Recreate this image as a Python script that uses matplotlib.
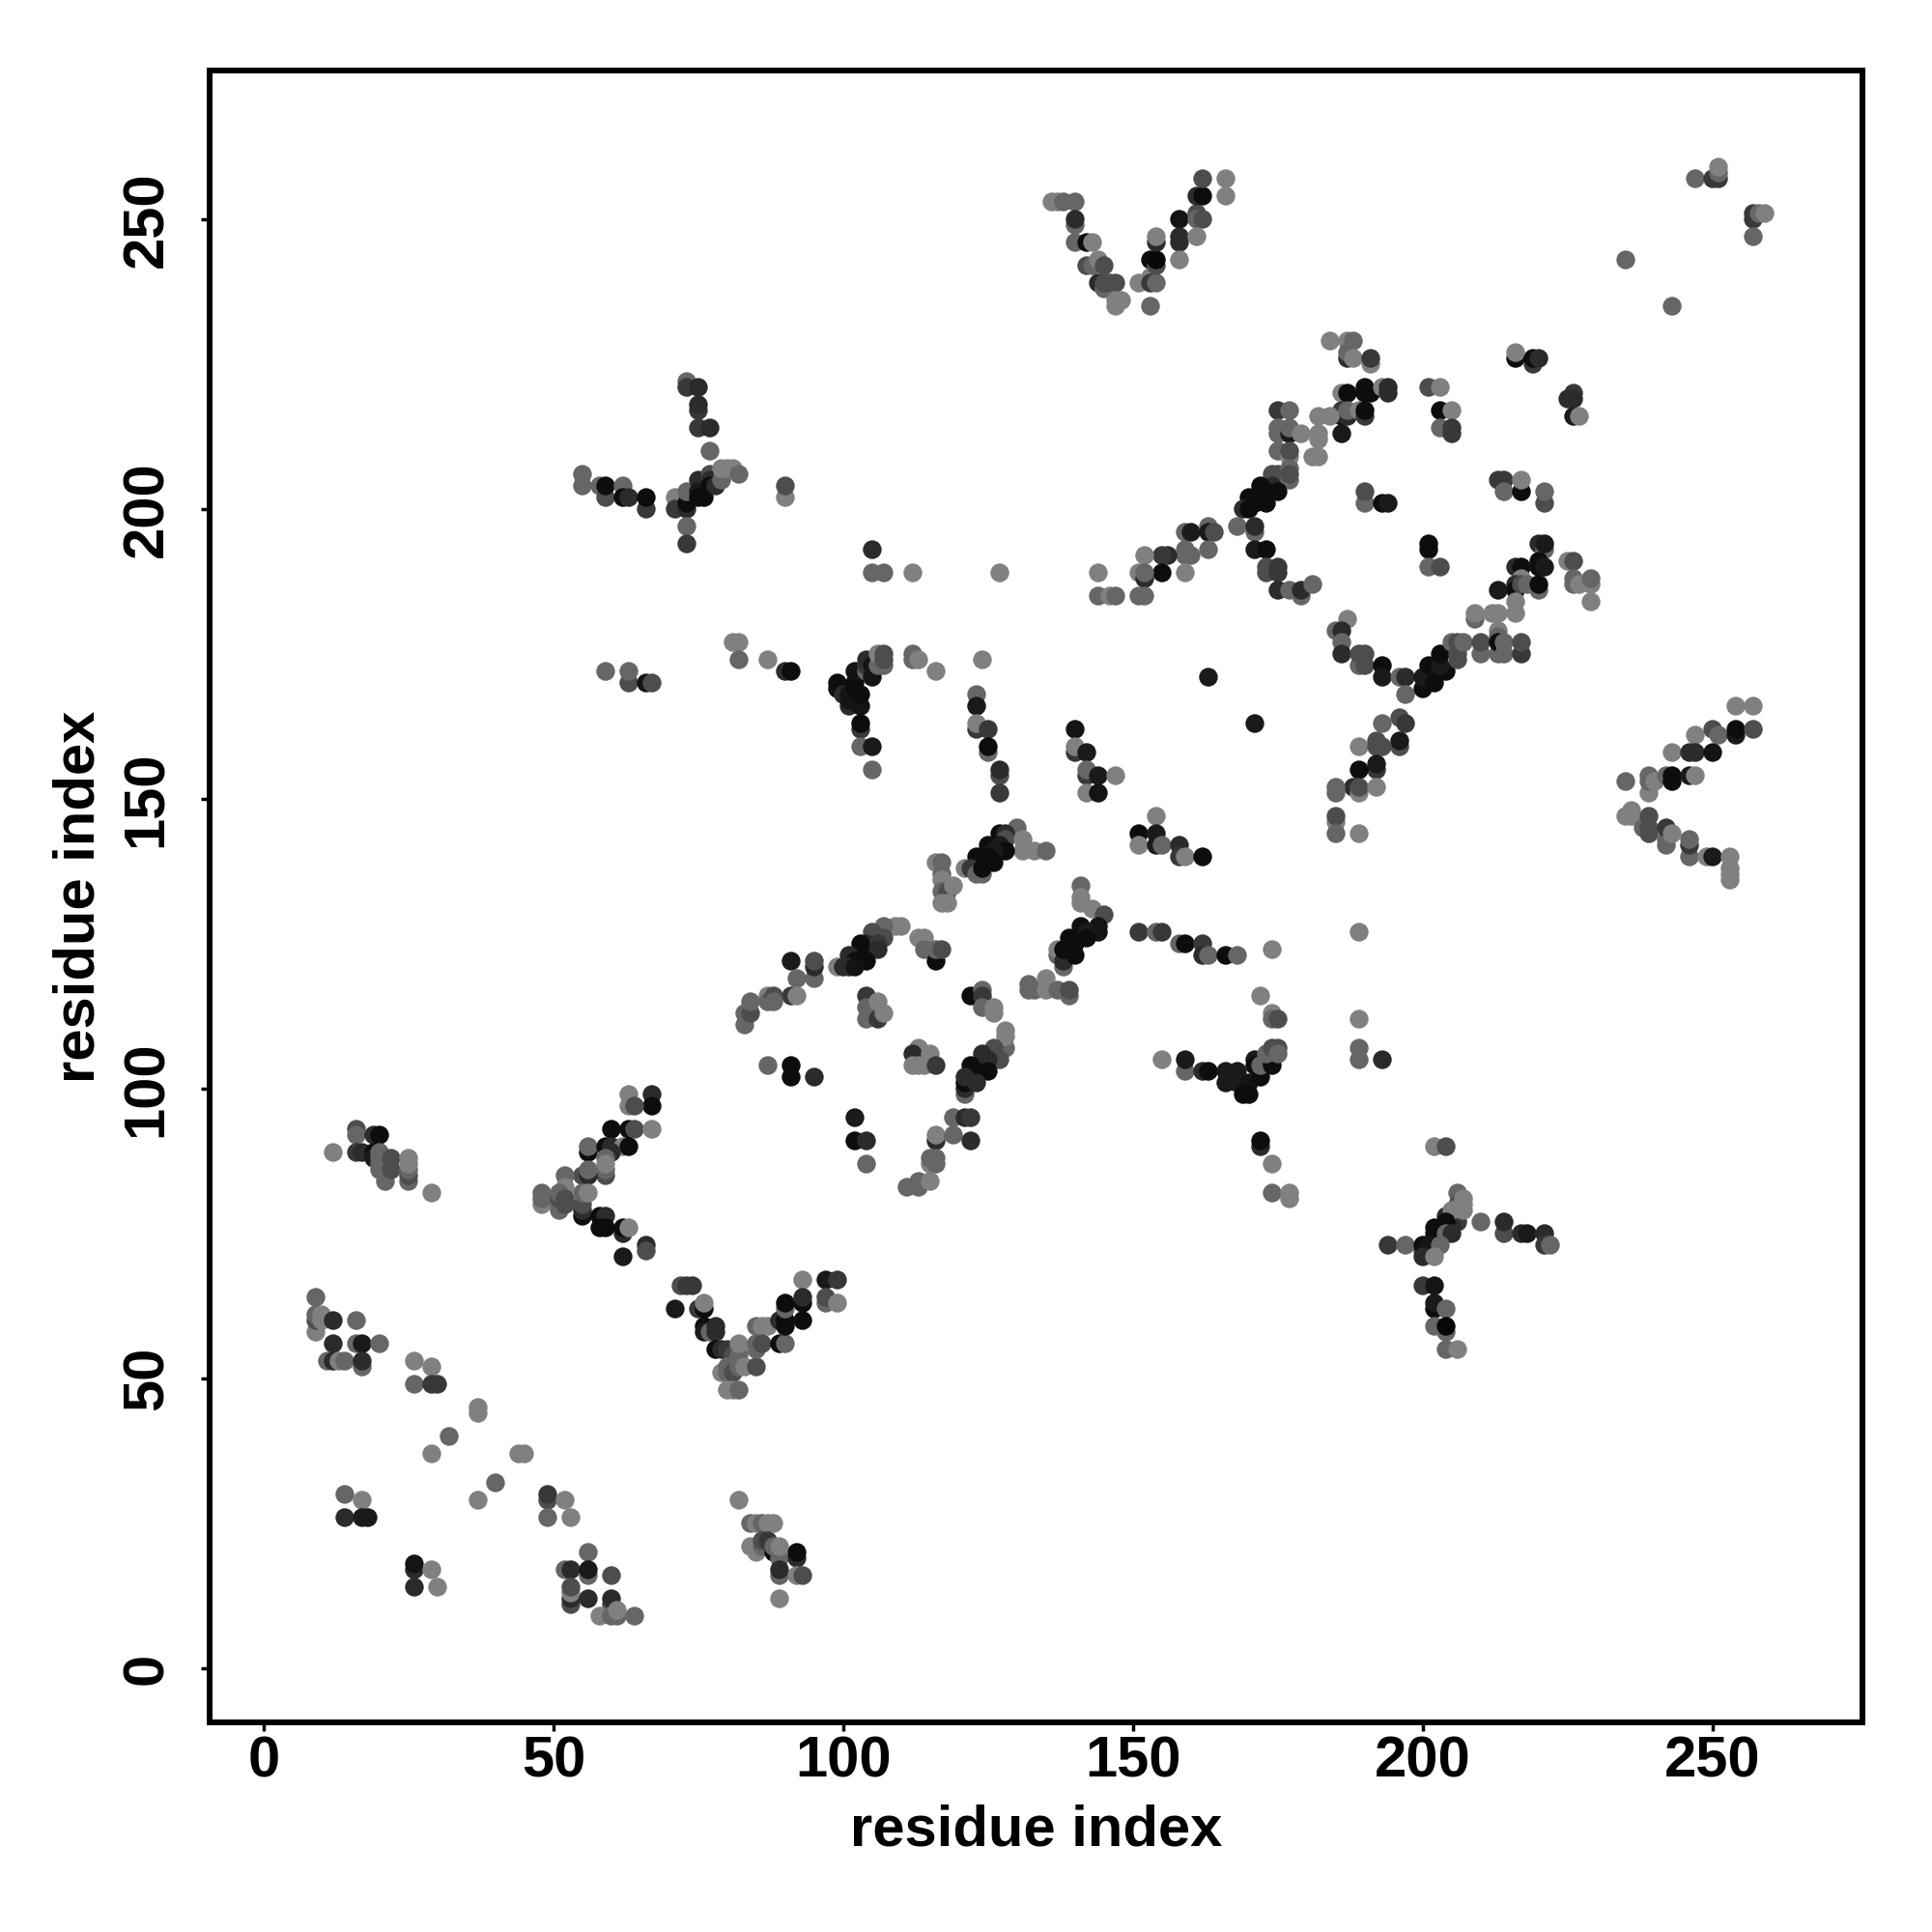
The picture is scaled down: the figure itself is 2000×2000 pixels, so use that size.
import numpy as np
import matplotlib
matplotlib.use('Agg')
import matplotlib.pyplot as plt

# contacts as (residue i, residue j, grey percent)
low_left = [(12,89,50),(16,93,30),(16,92,40),(16,89,22),(17,89,17),(19,92,17),(20,92,5),(19,89,5),(19,88,10),
    (20,89,40),(20,88,40),(20,87,40),(20,86,40),(21,88,40),(21,86,40),(21,84,40),(22,88,30),(22,86,30),
    (25,84,40),(25,85,30),(25,86,40),(25,87,50),(25,88,50),(29,82,50)]
chevron_a = [(63,99,50),(67,99,17),(67,97,5),(63,97,50),(64,97,30),(60,93,5),(63,93,5),(64,93,30),(67,93,50),
    (56,89,5),(56,90,40),(59,90,5),(60,90,17),(62,90,50),(63,90,5),(60,89,17),(59,88,40),(59,85,30),(59,86,40),(59,87,50),
    (55,85,30),(56,85,17),(56,86,40),(52,85,40),(52,83,50),(48,80,50),(48,81,40),(48,82,40),(51,79,40),(51,80,40),(51,81,30),(51,82,40),
    (52,80,30),(52,81,30),(55,78,5),(55,79,17),(55,80,30),(55,82,40),(56,82,50),(58,78,5),(59,78,17),(58,76,5),(59,76,5),
    (62,75,17),(62,76,5),(63,76,50),(66,73,17),(66,72,30),(62,71,10)]
mid_low = [(87,104,40),(91,104,5),(91,102,5),(95,102,17),(102,95,10),(102,91,5),(104,91,17),(104,87,40)]
vee_a = [(72,66,30),(73,66,22),(74,66,22),(71,62,10),(75,62,22),(76,62,5),(76,63,50),(76,59,5),(76,58,10),(77,58,40),(78,59,17),(78,58,17),
    (78,55,5),(79,55,17),(80,55,22),(81,54,30),(82,54,40),(82,56,50),(79,51,50),(80,51,40),(80,52,40),(81,51,30),(82,52,40),(83,52,50),(85,52,30),
    (80,48,50),(81,48,50),(82,48,40),(85,59,40),(86,59,50),(87,59,50),(85,55,40),(85,56,40),(86,56,30),(89,56,5),(90,56,40),
    (89,60,17),(90,59,5),(90,60,5),(90,62,40),(90,63,5),(93,67,50),(93,63,5),(93,64,17),(93,60,5),(97,67,10),(99,67,22),(97,63,40),(97,64,30),(99,63,50)]
far_left = [(9,64,40),(9,58,50),(9,60,30),(9,61,40),(10,60,50),(10,61,50),(12,60,17),(16,60,40),(12,56,17),(16,56,40),(17,56,10),(20,56,40),
    (11,53,40),(12,53,17),(13,53,50),(14,53,40),(17,52,40),(17,53,17),(26,53,50),(29,52,50),(26,49,40),(29,49,22),(30,49,22),
    (37,44,50),(37,45,50),(32,40,40),(29,37,50),(44,37,50),(45,37,50),(40,32,40),(37,29,50),
    (14,30,40),(17,29,50),(14,26,17),(17,26,10),(18,26,10),(49,29,30),(49,30,22),(52,29,50),(49,26,40),(53,26,50)]
bottom_left = [(26,17,17),(26,18,8),(29,17,50),(26,14,17),(30,14,50),(56,20,40),(52,17,40),(53,17,17),(56,16,40),(56,17,10),(60,16,30),
    (53,11,30),(53,12,17),(53,13,50),(53,14,30),(56,12,17),(60,11,30),(60,12,17),(58,9,50),(60,9,40),(61,9,40),(61,10,50),(64,9,40),
    (82,29,50),(84,25,40),(85,25,50),(86,25,40),(87,25,50),(88,25,50),(84,21,50),(85,20,50),(86,21,40),(86,22,30),(87,22,22),(88,20,5),(88,21,40),(89,19,40),(89,21,50),
    (92,19,17),(92,20,5),(89,16,40),(89,17,17),(92,16,50),(93,16,30),(89,12,50)]
block_170 = [(81,177,50),(82,177,50),(82,174,40),(87,174,50),(90,172,17),(91,172,5),(99,169,5),(99,170,5),(100,168,17),(101,166,17),(101,167,8),(101,168,8),
    (102,169,5),(102,170,5),(102,172,8),(103,162,22),(103,163,5),(103,166,8),(103,168,5),(103,159,40),(105,159,10),(105,155,40),
    (104,172,40),(104,173,22),(104,174,17),(105,171,8),(105,173,8),(106,173,40),(106,175,50),(107,173,40),(107,174,30),(107,175,30),
    (112,175,40),(112,174,40),(113,174,50),(116,172,50),(124,174,50),(123,168,40),(123,166,10),(123,162,22),(123,163,50),(125,162,22),(125,158,40),(125,159,5),
    (127,154,30),(127,155,17),(127,151,22),(140,162,8),(140,158,22),(140,159,50),(142,158,10),(142,154,22),(142,155,40),(144,154,10),(147,154,50),(142,151,50),(144,151,8),
    (163,171,10),(171,163,10)]
block_140 = [(154,147,50),(151,144,5),(154,144,10),(151,142,50),(154,142,10),(155,142,40),(158,142,17),(158,140,22),(159,140,50),(162,140,5),
    (130,145,40),(127,144,5),(128,144,17),(128,143,30),(131,143,50),(131,141,50),(133,141,50),(135,141,40),(125,142,5),(127,142,10),(128,141,5),(126,141,10),
    (123,140,5),(125,140,5),(126,139,5),(121,138,50),(122,138,22),(123,137,40),(124,137,40),(124,138,5),
    (116,139,50),(117,139,40),(117,137,40),(117,136,50),(117,134,40),(118,134,30),(119,135,50),(117,132,50),(118,132,50),
    (141,135,40),(141,133,50),(141,132,50),(143,131,50),(145,130,30),(141,128,5),(144,128,8),(144,127,8),(142,127,10),(139,126,5),(142,126,5),(140,125,5),
    (137,123,40),(137,124,50),(138,121,40),(138,122,17),(138,124,5),(140,123,5)]
block_125 = [(151,127,22),(154,127,40),(155,127,22),(158,125,40),(159,125,5),(162,125,22),(162,123,17),(163,123,40),(166,123,5),(168,123,40),(174,124,50),
    (110,128,50),(109,128,50),(107,128,40),(105,127,30),(107,126,30),(104,125,17),(106,125,22),(103,125,5),(106,124,17),(103,123,5),(101,123,17),(104,122,5),(102,122,5),
    (99,121,50),(100,121,17),(101,121,17),(102,121,8),(113,126,50),(114,126,50),(114,124,40),(116,122,5),(116,124,40),(117,124,30),
    (91,122,10),(95,119,40),(95,121,17),(95,122,30),(92,119,40),(91,116,22),(92,116,50),(87,116,50),(87,115,40),(88,116,30),(88,115,40),
    (83,111,40),(83,113,40),(84,113,30),(84,115,40),
    (104,116,22),(104,112,40),(104,114,40),(106,112,22),(106,115,50),(107,113,50),(122,116,5),(124,117,40),(124,116,22),(124,114,40),(126,114,50),(126,113,50),
    (132,118,40),(132,117,40),(133,117,40),(135,119,50),(135,117,50),(137,117,40),(139,116,40),(139,117,30)]
block_105 = [(128,107,40),(128,109,50),(128,110,50),(126,107,30),(124,106,17),(127,105,30),(125,105,17),(122,104,5),(125,103,5),(123,103,5),(121,99,40),(121,100,17),(121,101,5),(121,102,17),(123,101,17),
    (113,107,50),(112,106,17),(115,106,50),(112,104,50),(113,104,50),(114,104,50),(116,104,22),
    (119,95,40),(121,95,17),(122,95,22),(116,91,17),(116,92,50),(119,92,40),(122,91,17),(115,87,50),(116,87,40),(115,88,40),(116,88,40),(111,83,40),(113,83,40),(113,84,40),(115,84,50),
    (155,105,50),(159,103,40),(159,105,10),(162,103,17),(163,103,5),(166,103,10),(168,103,10),(166,101,10),(168,101,10),(170,101,8),(169,99,5),(170,99,5),(172,102,5),
    (171,105,10),(171,104,5),(172,104,40),(174,104,5),(173,106,40),(174,107,30),(175,107,30),(175,106,40),
    (172,116,50),(174,113,50),(174,112,40),(175,112,30),(172,90,17),(172,91,5),(174,87,50),(174,82,40),(177,81,50),(177,82,50),
    (189,127,50),(189,112,50),(189,107,40),(189,105,40),(193,105,17)]
top_right = [(184,229,50),(187,229,50),(188,229,40),(187,226,17),(187,227,40),(188,226,50),(191,225,50),(191,226,22),(216,226,5),(216,227,50),(219,225,22),(219,226,5),(220,226,17),
    (226,220,22),(225,219,17),(226,219,17),(226,216,10),(227,216,50),(186,220,50),(187,220,5),(190,221,5),(190,220,5),(191,220,5),(193,221,50),(194,220,17),(194,221,17),
    (201,221,30),(203,221,50),(203,217,5),(205,217,50),(203,214,40),(205,213,22),(205,214,22),
    (186,216,8),(186,217,22),(187,216,17),(187,217,40),(189,217,50),(190,216,22),(190,217,5),(186,213,10),
    (175,217,22),(177,217,40),(175,213,40),(175,214,40),(177,213,10),(177,214,40),(179,213,50),(182,216,50),(184,216,50),(182,212,50),(182,213,50),
    (175,210,40),(177,209,50),(177,210,30),(181,209,50),(182,209,50),(174,206,30),(175,206,30),(177,205,40),(177,207,40),(177,206,30),
    (174,204,17),(175,203,5),(172,204,5),(173,203,5),(170,202,5),(173,201,5),(171,201,5),(169,200,17),(170,200,5),
    (190,201,40),(190,203,30),(193,201,5),(194,201,10),(213,205,22),(214,205,22),(214,203,40),(217,203,5),(217,205,50),(221,201,30),(221,203,40)]
ring_190 = [(168,197,40),(171,196,40),(171,197,17),(171,193,10),(173,193,5),(159,196,40),(160,196,10),(163,197,40),(163,196,10),(164,196,30),(163,193,40),
    (159,192,40),(159,193,40),(160,192,40),(156,192,17),(155,192,22),(159,189,50),(155,189,5),(152,192,50),(151,189,50),(152,188,17),(152,189,40),
    (144,189,50),(144,185,40),(146,185,50),(147,185,40),(151,185,40),(152,185,40),
    (173,189,30),(173,190,30),(175,189,22),(175,190,22),(175,186,17),(177,186,40),(179,185,40),(179,186,17),(181,187,40),
    (201,194,5),(201,193,5),(201,190,40),(203,190,30),(220,194,17),(221,193,40),(221,194,10),(220,191,5),(220,190,5),(221,190,10),(216,190,17),(217,190,5),
    (217,188,50),(216,187,17),(216,186,5),(217,187,30),(218,187,40),(220,186,40),(220,187,5),(213,186,10),
    (225,191,50),(226,191,30),(226,187,40),(226,188,40),(227,187,50),(229,187,50),(229,188,40),(229,184,50)]
arc_175 = [(216,184,50),(216,182,50),(209,181,40),(209,182,50),(212,182,50),(213,182,50),(213,179,50),(213,178,40),
    (187,181,50),(185,179,40),(186,179,17),(186,177,40),(186,175,17),(189,173,40),(189,175,30),(190,173,30),(190,175,30),(193,173,5),(193,171,10),(196,171,40),(197,171,17),(197,168,40),
    (200,169,5),(200,171,10),(201,171,10),(201,173,5),(202,170,5),(204,172,5),(203,173,10),(203,175,5),(205,177,40),(206,174,30),(206,175,30),(206,177,30),(207,177,40),(210,175,40),(210,177,30),
    (213,175,40),(213,177,5),(214,175,40),(214,177,40),(217,175,22),(217,177,30),
    (196,164,30),(197,163,22),(193,163,40),(196,159,30),(196,160,10),(189,159,50),(192,159,30),(192,160,30),(193,159,30),(192,155,22),(192,156,10),(189,155,5),
    (188,152,17),(185,151,40),(185,152,40),(189,151,50),(189,152,30),(192,152,50),(185,146,50),(185,147,30),(185,144,40),(189,144,50)]
chevron_b = [(254,166,50),(257,166,50),(247,161,50),(250,162,30),(251,161,40),(254,161,10),(254,162,5),(257,162,30),(243,158,50),(246,158,17),(247,158,17),(250,158,8),
    (235,153,40),(239,151,50),(239,153,40),(239,154,40),(240,153,50),(242,154,40),(243,153,5),(243,154,5),(246,154,10),(247,154,50),
    (235,147,50),(236,147,50),(236,148,50),(238,145,40),(239,144,30),(239,145,30),(239,147,30),(242,142,40),(242,143,40),(242,145,22),(243,144,50),
    (246,140,40),(246,142,22),(246,143,40),(249,140,50),(250,140,10),(253,136,50),(253,137,50),(253,138,50),(253,140,50)]
cross_200 = [(73,222,40),(73,221,22),(75,221,17),(75,217,22),(75,218,17),(75,214,22),(77,214,17),(77,210,40),
    (55,206,40),(55,204,40),(58,204,40),(59,202,30),(59,204,5),(62,204,40),(62,202,5),(63,202,17),(66,200,22),(66,202,5),
    (71,202,50),(71,200,22),(73,200,17),(73,201,5),(73,203,40),(73,197,40),(73,194,22),(75,205,17),(75,203,10),(75,202,5),(76,202,5),
    (77,206,30),(77,205,17),(77,204,5),(78,204,17),(79,205,40),(79,207,50),(80,207,50),(81,207,50),(82,206,40),(90,202,50),(90,204,30),
    (105,193,17),(105,189,40),(107,189,40),(112,189,50),(127,189,50),(59,172,40),(63,170,30),(63,172,40),(66,170,8),(67,170,30)]
top_vee = [(136,253,50),(137,253,50),(138,253,40),(140,253,40),(140,249,40),(140,250,17),(140,246,40),(142,246,5),(143,246,50),
    (142,242,30),(143,242,40),(144,243,50),(145,242,30),(144,239,17),(145,238,40),(145,239,30),(146,239,30),(147,239,30),
    (147,235,50),(147,236,50),(148,236,50),(151,239,50),(153,240,50),(153,239,22),(154,239,40),(153,235,40),
    (153,243,5),(154,242,30),(154,243,3),(154,246,17),(154,247,50),(158,250,8),(158,246,17),(158,247,17),(158,243,50),
    (161,251,30),(161,250,40),(162,250,30),(161,247,50),(161,254,17),(162,254,5),(162,257,30),(166,257,50),(166,254,50)]
cross_75 = [(202,90,50),(204,90,30),(206,82,40),(206,80,30),(206,78,22),(206,77,22),(204,78,17),(205,79,50),(207,79,50),(207,80,50),(207,81,50),
    (205,76,17),(204,77,5),(202,76,5),(202,75,5),(204,75,40),(205,75,17),(210,77,40),(214,75,30),(214,77,17),(217,75,17),(218,75,10),(221,75,17),(221,73,22),(222,73,40),
    (194,73,22),(197,73,40),(200,72,22),(200,73,5),(201,72,5),(201,73,8),(203,73,40),(200,71,17),(202,71,50),
    (200,66,22),(202,66,8),(202,62,5),(202,63,10),(204,62,40),(202,59,40),(204,58,40),(204,59,3),(204,55,40),(206,55,50)]
far_top = [(247,257,40),(250,257,22),(251,257,22),(251,258,40),(251,259,50),(257,250,22),(257,251,22),(258,251,40),(259,251,50),(257,247,40),(235,243,40),(243,235,40)]

clusters = [low_left, chevron_a, mid_low, vee_a, far_left, bottom_left, block_170, block_140, block_125, block_105,
            top_right, ring_190, arc_175, chevron_b, cross_200, top_vee, cross_75, far_top]
xticks = [0, 50, 100, 150, 200, 250]

points = np.array([p for c in clusters for p in c], dtype=float)
colors = [str(g/100) for g in points[:,2]]

plt.rcParams['font.family'] = ['Liberation Sans', 'DejaVu Sans']
plt.rcParams['font.weight'] = 'bold'

fig = plt.figure(figsize=(20,20), dpi=100)
ax = fig.add_axes([217/2000, 1-1783/2000, (1928-217)/2000, (1783-73)/2000])
ax.scatter(points[:,0], points[:,1], s=195, c=colors, linewidths=0, clip_on=True)
ax.set_xlim(-9.33, 275.83)
ax.set_ylim(-9.33, 275.67)
ax.set_xticks(xticks)
ax.set_yticks(xticks)
ax.tick_params(axis='x', labelsize=43, length=6.5, width=2.5, pad=3)
ax.tick_params(axis='y', labelsize=43, length=6.5, width=2.5, pad=20)
for lab in ax.get_yticklabels():
    lab.set_rotation(90)
    lab.set_va('center')
ax.set_xlabel('residue index', fontsize=43, fontweight='bold', labelpad=12)
ax.set_ylabel('residue index', fontsize=43, fontweight='bold', labelpad=11)
for s in ax.spines.values():
    s.set_linewidth(4.3)

fig.savefig('out.png', dpi=100)
